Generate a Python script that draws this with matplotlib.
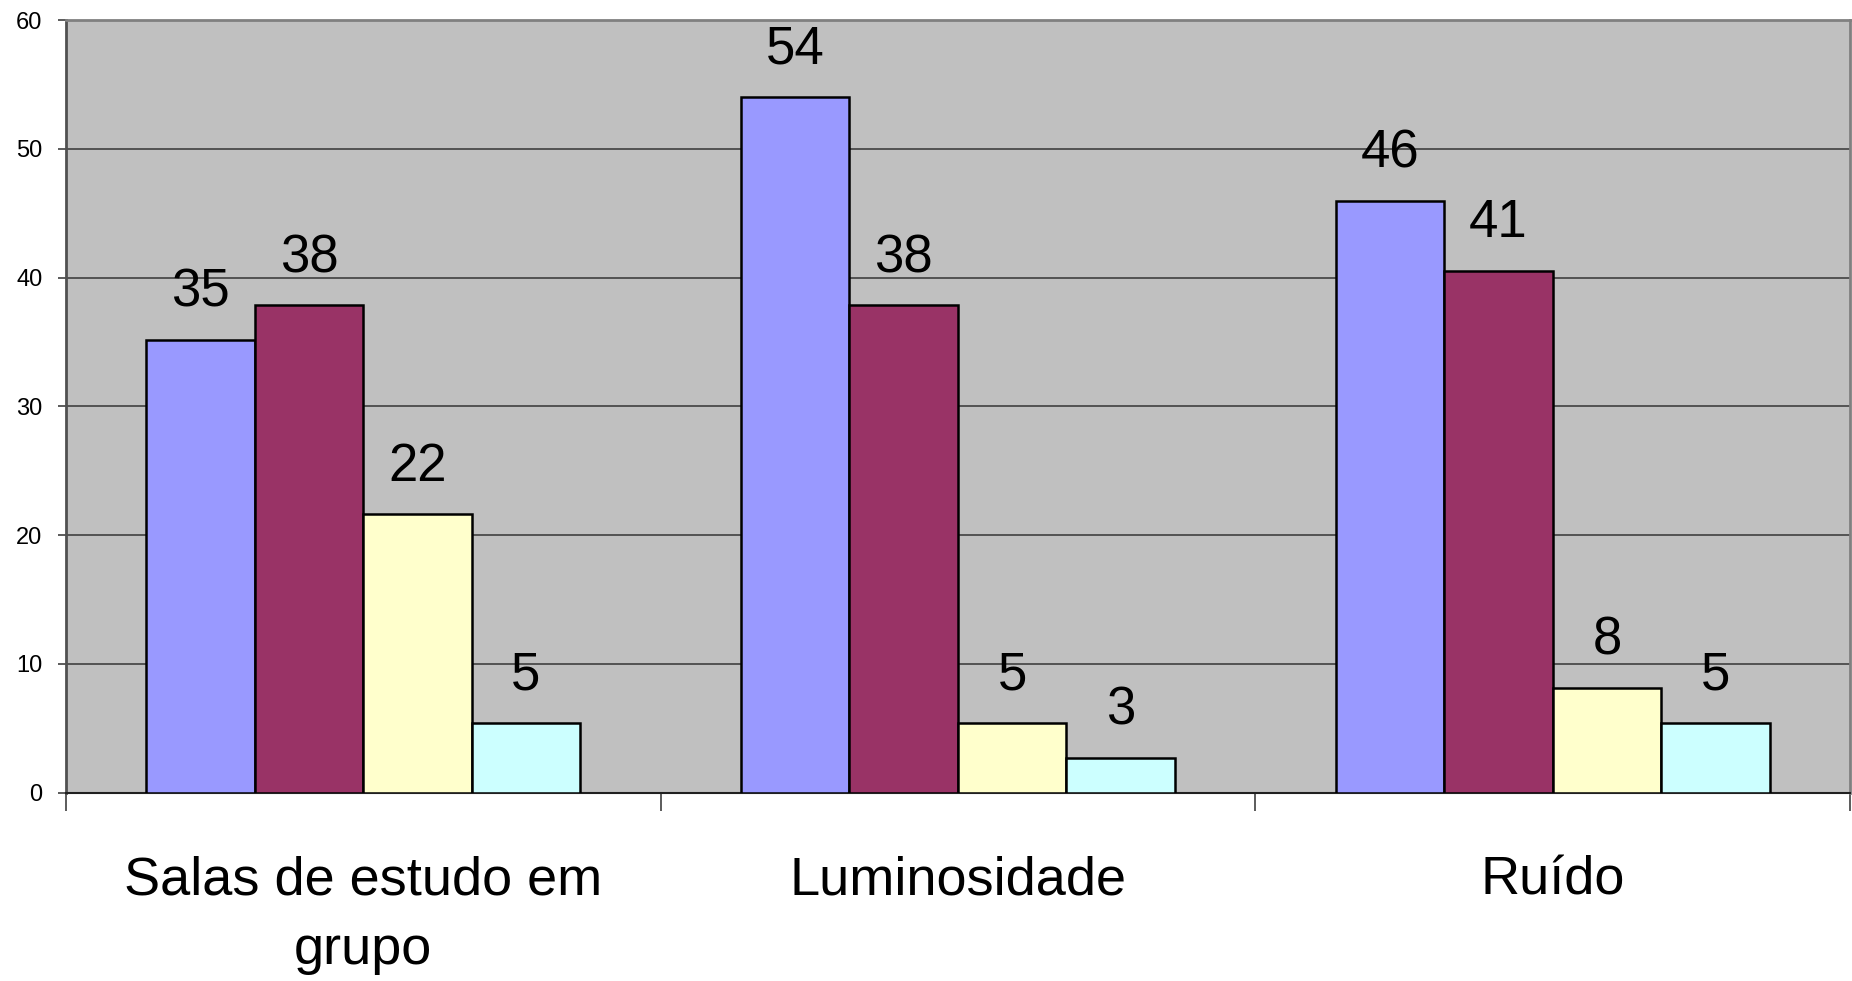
import numpy as np
from matplotlib import pyplot as plt

# Categories and series (percentages, labels shown rounded)
categories = ["Salas de estudo em\ngrupo", "Luminosidade", "Ruído"]
serie_1 = [35.14, 54.05, 45.95]
serie_2 = [37.84, 37.84, 40.54]
serie_3 = [21.62, 5.41, 8.11]
serie_4 = [5.41, 2.70, 5.41]
series = [serie_1, serie_2, serie_3, serie_4]
colors = ["#9999FF", "#993366", "#FFFFCC", "#CCFFFF"]
y_ticks = [0, 10, 20, 30, 40, 50, 60]

plt.rcParams["font.family"] = ["Liberation Sans", "DejaVu Sans"]

fig = plt.figure(figsize=(18.52, 9.81), dpi=100)
ax = fig.add_axes([0.0356, 0.192, 0.9633, 0.7875])
ax.set_facecolor("#C0C0C0")

x = np.arange(len(categories))
bar_w = 0.1825
for i, (vals, col) in enumerate(zip(series, colors)):
    pos = x + (i - 1.5) * bar_w
    ax.bar(pos, vals, width=bar_w, color=col, edgecolor="black",
           linewidth=1.8, zorder=3)
    for px, v in zip(pos, vals):
        ax.annotate("%.0f" % v, (px, v), xytext=(0, 24),
                    textcoords="offset points", ha="center", va="baseline",
                    fontsize=38, zorder=4)

ax.set_xlim(-0.5, 2.5)
ax.set_ylim(0, 60)
ax.set_yticks(y_ticks)
ax.yaxis.grid(True, color="#404040", linewidth=1.2, zorder=1)
ax.tick_params(axis="y", labelsize=17, length=6, width=1.2, pad=11,
               color="#404040")

# category labels at centres, tick marks at category boundaries
ax.set_xticks(x)
ax.set_xticklabels(categories, fontsize=39, linespacing=1.5)
ax.set_xticks(np.arange(-0.5, 3.0, 1.0), minor=True)
ax.tick_params(axis="x", which="major", length=0, pad=45)
ax.tick_params(axis="x", which="minor", length=13, width=1.2,
               color="#404040")

for side in ["top", "right"]:
    ax.spines[side].set_color("#808080")
    ax.spines[side].set_linewidth(2)
ax.spines["left"].set_color("#505050")
ax.spines["left"].set_linewidth(2)
ax.spines["bottom"].set_color("#202020")
ax.spines["bottom"].set_linewidth(1.5)

plt.savefig("out.png", dpi=100)
